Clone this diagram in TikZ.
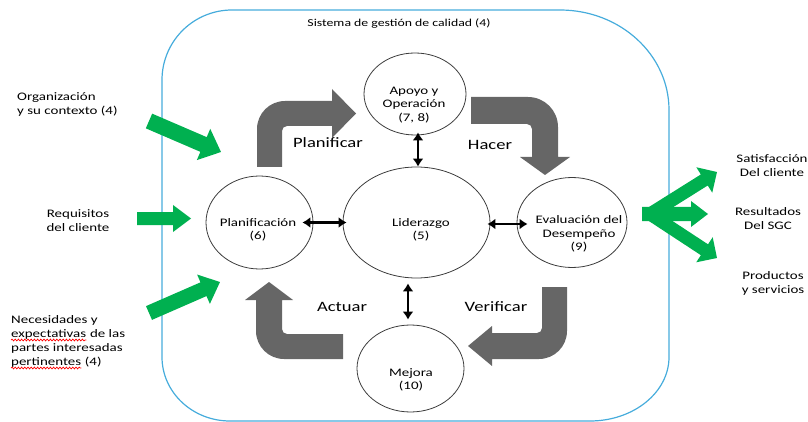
\documentclass[tikz,border=0pt]{standalone}
\usepackage{fontspec}
\setmainfont{Carlito}[FakeStretch=1.3]
\usetikzlibrary{arrows.meta,shapes.geometric,decorations.pathmorphing}

\definecolor{boxblue}{RGB}{70,172,220}
\definecolor{cyclegray}{RGB}{102,102,102}
\definecolor{inputgreen}{RGB}{0,176,80}
\definecolor{ringline}{RGB}{60,60,60}

% block arrow: tail x, tail y, tip x, tip y, shaft width, head width, head length
\newcommand\blockarrow[7]{%
  \pgfmathsetmacro\baang{atan2(-(#4-#2),#3-#1)}%
  \pgfmathsetmacro\balen{veclen(#3-#1,#4-#2)}%
  \pgfmathsetmacro\baback{\balen-#7}%
  \begin{scope}[shift={(#1,#2)},rotate=\baang]
    \fill[inputgreen] (0,-#5/2) -- (\baback,-#5/2) -- (\baback,-#6/2) -- (\balen,0)
      -- (\baback,#6/2) -- (\baback,#5/2) -- (0,#5/2) -- cycle;
  \end{scope}}

\tikzset{
  ringnode/.style={ellipse, draw=ringline, line width=0.8pt, inner sep=0pt},
  ringtext/.style={font=\fontsize{11.5}{13.5}\selectfont, align=center, inner sep=0pt},
  phase/.style={font=\fontsize{14.3}{16}\selectfont, inner sep=0pt},
  sidetext/.style={font=\fontsize{11.5}{14}\selectfont, inner sep=0pt},
  link/.style={line width=2.8pt, {Latex[length=8pt,width=11pt]}-{Latex[length=8pt,width=11pt]}},
  spellwave/.style={red, line width=0.7pt, decorate,
    decoration={snake, amplitude=0.9pt, segment length=3.2pt}},
}

\begin{document}
\begin{tikzpicture}[x=1pt,y=-1pt]
\useasboundingbox (0,0) rectangle (808,422);

% quality management system frame
\draw[boxblue, line width=1.2pt]
  (162,80) arc[start angle=180, end angle=90, radius=70pt]
  -- (560,10) arc[start angle=90, end angle=0, x radius=109pt, y radius=100pt]
  -- (669,357) arc[start angle=0, end angle=-90, x radius=79pt, y radius=64pt]
  -- (230,421) arc[start angle=-90, end angle=-180, x radius=68pt, y radius=64pt]
  -- cycle;
\node[font=\fontsize{10.6}{12}\selectfont, inner sep=0pt] (sgc) at (399,24)
  {Sistema de gestión de calidad (4)};

% PDCA bent arrows
\fill[cyclegray] (257,167) -- (257,129) arc[start angle=180, end angle=90, radius=28pt]
  -- (332,101) -- (332,89) -- (356,113.5) -- (332,138) -- (332,126) -- (287,126)
  arc[start angle=90, end angle=180, radius=5pt] -- (282,167) -- cycle;
\fill[cyclegray] (471,97) -- (528,97) arc[start angle=90, end angle=0, radius=30pt]
  -- (558,157) -- (570,157) -- (545,175) -- (520,157) -- (532,157) -- (532,129)
  arc[start angle=0, end angle=90, radius=5pt] -- (471,124) -- cycle;
\fill[cyclegray] (542,287) -- (567,287) -- (567,331)
  arc[start angle=0, end angle=-90, radius=28pt] -- (492,359) -- (492,366)
  -- (468,346) -- (492,326) -- (492,333) -- (537,333)
  arc[start angle=-90, end angle=0, radius=5pt] -- cycle;
\fill[cyclegray] (343,359) -- (284,359) arc[start angle=-90, end angle=-180, radius=28pt]
  -- (256,300) -- (245,300) -- (269,282) -- (293,300) -- (282,300) -- (282,329)
  arc[start angle=180, end angle=270, radius=5pt] -- (343,334) -- cycle;

\node[phase] (plan) at (328,143) {Planificar};
\node[phase] (do) at (490,145) {Hacer};
\node[phase] (act) at (342,307) {Actuar};
\node[phase] (check) at (496,307) {Verificar};

% inputs and outputs
\blockarrow{149}{121}{221}{152}{16}{34}{19}
\blockarrow{137}{218.5}{191}{218.5}{13}{27}{18}
\blockarrow{149}{313}{220}{282}{15}{32}{18}
\blockarrow{642}{214}{708}{214}{14}{26}{17}
\blockarrow{650}{214}{717}{172}{13}{30}{15}
\blockarrow{650}{214}{717}{258}{13}{30}{15}

\node[sidetext, anchor=west, align=left] (org) at (17,104)
  {Organización\\y su contexto (4)};
\node[sidetext, align=center] (req) at (78,221) {Requisitos\\del cliente};
\node[sidetext, anchor=base west] (nec1) at (11,323) {Necesidades y};
\node[sidetext, anchor=base west] (nec2a) at (11,337) {expectativas};
\node[sidetext, anchor=base west] (nec2b) at (nec2a.base east) {\ de las};
\node[sidetext, anchor=base west] (nec3) at (11,351) {partes interesadas};
\node[sidetext, anchor=base west] (nec4a) at (11,365) {pertinentes};
\node[sidetext, anchor=base west] (nec4b) at (nec4a.base east) {\ (4)};
\draw[spellwave] ([yshift=-3pt]nec2a.base west) -- ([yshift=-3pt]nec2a.base east);
\draw[spellwave] ([yshift=-3pt]nec4a.base west) -- ([yshift=-3pt]nec4a.base east);

\node[sidetext, align=center] (sat) at (772,166) {Satisfacción\\Del cliente};
\node[sidetext, align=center] (res) at (768,219) {Resultados\\Del SGC};
\node[sidetext, align=center] (prod) at (773,283) {Productos\\y servicios};

% process ellipses
\node[ringnode, minimum width=102pt, minimum height=82pt] (apoyo) at (415,94) {};
\node[ringnode, minimum width=147pt, minimum height=111pt] (lider) at (416.5,222.5) {};
\node[ringnode, minimum width=107pt, minimum height=93pt] (planif) at (259.5,222.5) {};
\node[ringnode, minimum width=110pt, minimum height=90pt] (eval) at (572,222.5) {};
\node[ringnode, minimum width=107pt, minimum height=87pt] (mejora) at (410.5,368.5) {};

\node[ringtext] at (414,105) {Apoyo y\\Operación\\(7, 8)};
\node[ringtext] at (258,230) {Planificación\\(6)};
\node[ringtext] at (421,230) {Liderazgo\\(5)};
\node[ringtext] at (579,234) {Evaluación del\\Desempeño\\(9)};
\node[ringtext] at (411,380) {Mejora\\(10)};

% interactions with leadership
\draw[link] ([xshift=3pt,yshift=3pt]apoyo.south) -- ([xshift=1.5pt]lider.north);
\draw[link] ([xshift=-11pt]planif.east) -- ([xshift=4pt]lider.west);
\draw[link] ([xshift=-3pt,yshift=-1.5pt]lider.east) -- ([xshift=11pt,yshift=-1.5pt]eval.west);
\draw[link] ([xshift=-8.5pt,yshift=-5pt]lider.south) -- ([xshift=-2.5pt,yshift=5pt]mejora.north);
\end{tikzpicture}
\end{document}
